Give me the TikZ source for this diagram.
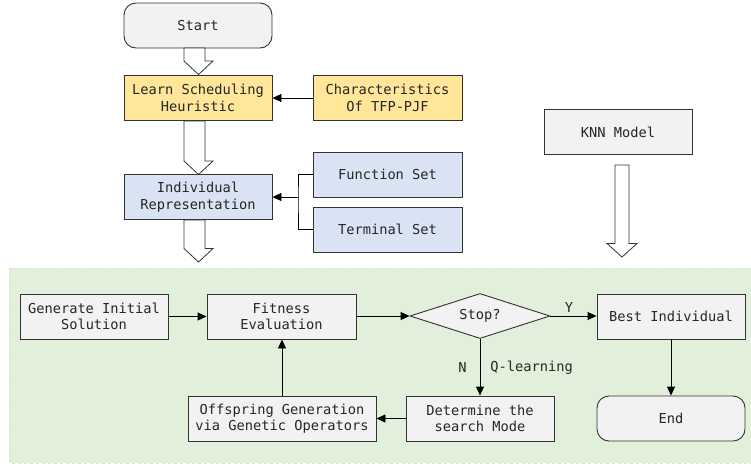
\documentclass[tikz,border=0pt]{standalone}
\usepackage{fontspec}
\setmonofont{DejaVu Sans Mono}
\usetikzlibrary{shapes.geometric,arrows.meta}
\definecolor{boxgray}{HTML}{F2F2F2}
\definecolor{boxyellow}{HTML}{FFE699}
\definecolor{boxblue}{HTML}{DAE3F3}
\definecolor{bggreen}{HTML}{E2EFDA}
\definecolor{bgborder}{HTML}{D6E6CC}
\definecolor{edge}{HTML}{333333}
\begin{document}
\begin{tikzpicture}[x=1pt,y=-1pt,
  every node/.style={font=\ttfamily\fontsize{13.7}{16.5}\selectfont, text=black!85, align=center},
  proc/.style={draw=edge, line width=0.9pt, fill=boxgray, minimum width=148pt, minimum height=45pt, inner sep=0pt},
  term/.style={proc, rounded corners=12pt},
  yel/.style={proc, fill=boxyellow},
  blu/.style={proc, fill=boxblue},
  dec/.style={draw=edge, line width=0.9pt, fill=boxgray, diamond, aspect=3.1, minimum width=140pt, minimum height=45pt, inner sep=0pt},
  conn/.style={draw=black, line width=0.9pt, -{Triangle[length=9pt,width=8pt]}},
  hollow/.style={draw=edge, line width=0.8pt, fill=white},
  lbl/.style={inner sep=1pt}
]
\useasboundingbox (0,0) rectangle (751,466);
\fill[white] (0,0) rectangle (751,466);
% green background
\draw[bgborder, dashed, fill=bggreen, line width=0.6pt] (9,268) rectangle (752,463);

% top nodes
\node[term] (start) at (198,25.5) {Start};
\node[yel] (learn) at (198,98) {Learn Scheduling\\Heuristic};
\node[yel, minimum width=149pt] (chr) at (387.5,98) {Characteristics\\Of TFP-PJF};
\node[blu] (indiv) at (198,197) {Individual\\Representation};
\node[blu, minimum width=149pt] (func) at (387.5,174.5) {Function Set};
\node[blu, minimum width=149pt] (termset) at (387.5,229.5) {Terminal Set};
\node[proc] (knn) at (618,132) {KNN Model};

% bottom nodes
\node[proc] (gen) at (94,316.5) {Generate Initial\\Solution};
\node[proc, minimum width=149pt] (fit) at (281.5,316.5) {Fitness\\Evaluation};
\node[dec] (stop) at (480,316) {Stop?};
\node[proc] (best) at (671,316.5) {Best Individual};
\node[term] (endn) at (671,418.5) {End};
\node[proc] (det) at (480,418.5) {Determine the\\search Mode};
\node[proc, minimum width=188pt] (off) at (282,418.5) {Offspring Generation\\via Genetic Operators};

% hollow arrows
\path[hollow] (184,48) -- (205,48) -- (205,61) -- (213,61) -- (198.5,74.5) -- (184,61) -- cycle;
\path[hollow] (184,121) -- (205,121) -- (205,161) -- (213,161) -- (198.5,174.5) -- (184,161) -- cycle;
\path[hollow] (184,220) -- (205,220) -- (205,248.5) -- (213,248.5) -- (198.5,262) -- (184,248.5) -- cycle;
\path[hollow] (615,165) -- (629,165) -- (629,243.5) -- (637,243.5) -- (622,257) -- (607,243.5) -- (615,243.5) -- cycle;

% connectors
\draw[conn] (chr.west) -- (learn.east);
\coordinate (jn) at (298,197);
\draw[black, line width=0.9pt] (func.west) -| (jn) |- (termset.west);
\draw[conn] (jn) -- (indiv.east);

\draw[conn] (gen.east) -- (gen.east -| fit.west);
\draw[conn] (fit.east |- stop.west) -- (stop.west);
\draw[conn] (stop.east) -- (stop.east -| best.west) node[lbl, pos=0.4, above=2pt] {Y};
\draw[conn] (stop.south) -- (det.north) node[lbl, pos=0.5, left=12pt] {N} node[lbl, pos=0.5, right=9pt] {Q-learning};
\draw[conn] (det.west) -- (det.west -| off.east);
\draw[conn] (off.north) -- (off.north |- fit.south);
\draw[conn] (best.south) -- (endn.north);
\end{tikzpicture}
\end{document}
